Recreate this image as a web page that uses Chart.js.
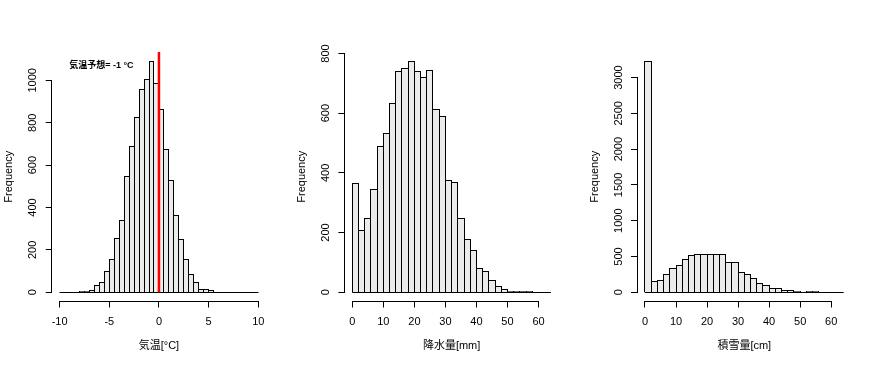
<!DOCTYPE html>
<html>
<head>
<meta charset="utf-8">
<script src="https://cdn.jsdelivr.net/npm/chart.js@4.4.0/dist/chart.umd.min.js"></script>
<style>
  html, body { margin: 0; padding: 0; background: #fff; }
  #wrap { position: relative; width: 878px; height: 366px; background: #fff; }
  #wrap canvas { position: absolute; left: 0; top: 0; }
</style>
</head>
<body>
<div id="wrap">
  <canvas id="c1" width="878" height="366"></canvas>
  <canvas id="c2" width="878" height="366"></canvas>
  <canvas id="c3" width="878" height="366"></canvas>
</div>
<script>
// ---------------- DATA ----------------
const tempBreaks = [-10,-9.5,-9,-8.5,-8,-7.5,-7,-6.5,-6,-5.5,-5,-4.5,-4,-3.5,-3,-2.5,-2,-1.5,-1,-0.5,0,
                    0.5,1,1.5,2,2.5,3,3.5,4,4.5,5,5.5,6,6.5,7,7.5,8,8.5,9,9.5,10];
const tempCounts = [0,2,3,3,4,5,11,33,47,100,156,255,340,547,689,825,958,1005,1090,987,
                    863,676,528,366,250,156,85,47,15,15,9,0,0,0,0,0,0,0,0,0];
const tempXTicks = [-10,-5,0,5,10];
const tempYTicks = [0,200,400,600,800,1000];
const tempXLim = [-10,10];
const tempRefValue = 0;
const tempNote = '気温予想= -1 °C';
const tempNoteAt = [-5.8, 1072];

const precipBreaks = [0,2,4,6,8,10,12,14,16,18,20,22,24,26,28,30,32,34,36,38,40,42,44,46,48,50,52,54,56,58,60,62,64];
const precipCounts = [365,208,248,345,489,533,634,741,750,774,741,721,744,613,590,375,369,248,178,141,
                      80,70,41,22,10,3,3,3,3,0,0,0];
const precipXTicks = [0,10,20,30,40,50,60];
const precipYTicks = [0,200,400,600,800];
const precipXLim = [0,64];

const snowBreaks = [0,2,4,6,8,10,12,14,16,18,20,22,24,26,28,30,32,34,36,38,40,42,44,46,48,50,52,54,56,58,60,62,64];
const snowCounts = [3228,154,172,252,335,377,461,517,531,531,531,531,531,419,419,280,252,193,126,98,
                    56,56,30,30,16,2,14,14,0,0,0,0];
const snowXTicks = [0,10,20,30,40,50,60];
const snowYTicks = [0,500,1000,1500,2000,2500,3000];
const snowXLim = [0,64];

const yTitle = 'Frequency';
const xTitles = ['気温[°C]', '降水量[mm]', '積雪量[cm]'];

// ---------------- LAYOUT / STYLE ----------------
const W = 878, H = 366;
const PLOT_TOP = 52, PLOT_BOTTOM = 301.5;
const Y_AXIS_W = 49, X_AXIS_H = 60;
const FONT = "'Liberation Sans', Arial, 'Noto Sans CJK JP', sans-serif";
const BAR_FILL = '#EBEBEB';

const align = p => Math.round(p - 0.5) + 0.5;

// Snap bar rectangles (computed by Chart.js from the scales) to whole pixels so outlines are crisp
const snapPlugin = {
  id: 'snapBars',
  afterDatasetsUpdate(chart) {
    chart.data.datasets.forEach((ds, di) => {
      const meta = chart.getDatasetMeta(di);
      if (meta.type === 'bar') {
        meta.data.forEach(el => {
          const l = Math.round(el.x - el.width / 2);
          const r = Math.round(el.x + el.width / 2);
          el.x = (l + r) / 2;
          el.width = r - l;
          el.base = Math.round(el.base) + 0.5;
          el.y = Math.round(el.y);
          el.height = el.base - el.y;
        });
      } else if (meta.type === 'line' && ds.horizontalRule) {
        meta.data.forEach(pt => { pt.y = align(pt.y); });
      }
    });
  }
};

const rAxisPlugin = {
  id: 'rAxis',
  afterDraw(chart, args, opts) {
    const { ctx, chartArea } = chart;
    const xs = chart.scales.x, ys = chart.scales.y;
    ctx.save();
    ctx.strokeStyle = '#000';
    ctx.lineWidth = 1;
    const xt = xs.ticks, yt = ys.ticks;
    const yLine = align(chartArea.bottom);
    ctx.beginPath();
    ctx.moveTo(align(xs.getPixelForValue(xt[0].value)) - 0.5, yLine);
    ctx.lineTo(align(xs.getPixelForValue(xt[xt.length - 1].value)) + 0.5, yLine);
    ctx.stroke();
    const xLine = align(chartArea.left);
    ctx.beginPath();
    ctx.moveTo(xLine, align(ys.getPixelForValue(yt[0].value)) + 0.5);
    ctx.lineTo(xLine, align(ys.getPixelForValue(yt[yt.length - 1].value)) - 0.5);
    ctx.stroke();
    // rotated y tick labels (R style)
    ctx.fillStyle = '#000';
    ctx.font = '11px ' + FONT;
    ctx.textAlign = 'center';
    ctx.textBaseline = 'middle';
    for (const t of yt) {
      const py = ys.getPixelForValue(t.value);
      ctx.save();
      ctx.translate(chartArea.left - 18.5, py);
      ctx.rotate(-Math.PI / 2);
      ctx.fillText(String(t.value), 0, 0);
      ctx.restore();
    }
    // optional annotation
    if (opts && opts.note) {
      ctx.font = 'bold 9px ' + FONT;
      ctx.textAlign = 'center';
      ctx.textBaseline = 'middle';
      ctx.fillText(opts.note, xs.getPixelForValue(opts.noteAt[0]), ys.getPixelForValue(opts.noteAt[1]));
    }
    ctx.restore();
  }
};

function makePanel(canvasId, panelIndex, breaks, counts, xlim, xTicks, yTicks, xTitle, extra) {
  const panelX = panelIndex * W / 3;
  const left = panelX + 51.7, right = panelX + 266.2;
  const xr = xlim[1] - xlim[0];
  const xmin = xlim[0] - 0.04 * xr, xmax = xlim[1] + 0.04 * xr;
  const cmax = Math.max(...counts);
  const ymin = -0.04 * cmax, ymax = 1.04 * cmax;
  const binPx = (breaks[1] - breaks[0]) / (xmax - xmin) * (right - left);

  const barData = counts.map((c, i) => ({ x: (breaks[i] + breaks[i + 1]) / 2, y: c }));
  const datasets = [];
  if (extra && extra.refValue !== undefined) {
    datasets.push({
      type: 'line',
      data: [{ x: extra.refValue, y: 0 }, { x: extra.refValue, y: ymax * 2 }],
      borderColor: '#FF0000', borderWidth: 2.5, pointRadius: 0, clip: 0, order: 0
    });
  }
  datasets.push({
    type: 'line',
    horizontalRule: true,
    data: [{ x: breaks[0], y: 0 }, { x: breaks[breaks.length - 1], y: 0 }],
    borderColor: '#000', borderWidth: 1, pointRadius: 0, clip: 0, order: 1
  });
  datasets.push({
    type: 'bar',
    data: barData,
    backgroundColor: BAR_FILL,
    borderColor: '#000',
    borderWidth: 1,
    borderSkipped: 'start',
    barThickness: binPx + 1,
    inflateAmount: 0,
    order: 2
  });

  return new Chart(document.getElementById(canvasId), {
    type: 'bar',
    data: { datasets },
    plugins: [snapPlugin, rAxisPlugin],
    options: {
      responsive: false,
      animation: false,
      devicePixelRatio: 1,
      layout: {
        autoPadding: false,
        padding: { left: left - Y_AXIS_W, right: W - right, top: PLOT_TOP, bottom: H - PLOT_BOTTOM - X_AXIS_H }
      },
      plugins: {
        legend: { display: false },
        tooltip: { enabled: false },
        title: { display: false },
        rAxis: extra && extra.note ? { note: extra.note, noteAt: extra.noteAt } : {}
      },
      scales: {
        x: {
          type: 'linear',
          min: xmin, max: xmax,
          offset: false,
          afterBuildTicks: s => { s.ticks = xTicks.map(v => ({ value: v })); },
          afterFit: s => { s.height = X_AXIS_H; },
          grid: { display: true, offset: false, drawOnChartArea: false, drawTicks: true, tickLength: 6, color: '#000', lineWidth: 1 },
          border: { display: false },
          ticks: { color: '#000', font: { family: FONT, size: 11 }, padding: 7.6, maxRotation: 0, minRotation: 0, autoSkip: false },
          title: { display: true, text: xTitle, color: '#000', font: { family: FONT, size: 11 }, padding: { top: 0, bottom: 9.2 } }
        },
        y: {
          type: 'linear',
          min: ymin, max: ymax,
          afterBuildTicks: s => { s.ticks = yTicks.map(v => ({ value: v })); },
          afterFit: s => { s.width = Y_AXIS_W; },
          grid: { display: true, drawOnChartArea: false, drawTicks: true, tickLength: 6, color: '#000', lineWidth: 1 },
          border: { display: false },
          ticks: { display: false },
          title: { display: true, text: yTitle, color: '#000', font: { family: FONT, size: 11 }, padding: 0 }
        }
      }
    }
  });
}

makePanel('c1', 0, tempBreaks, tempCounts, tempXLim, tempXTicks, tempYTicks, xTitles[0],
          { refValue: tempRefValue, note: tempNote, noteAt: tempNoteAt });
makePanel('c2', 1, precipBreaks, precipCounts, precipXLim, precipXTicks, precipYTicks, xTitles[1]);
makePanel('c3', 2, snowBreaks, snowCounts, snowXLim, snowXTicks, snowYTicks, xTitles[2]);
</script>
</body>
</html>
